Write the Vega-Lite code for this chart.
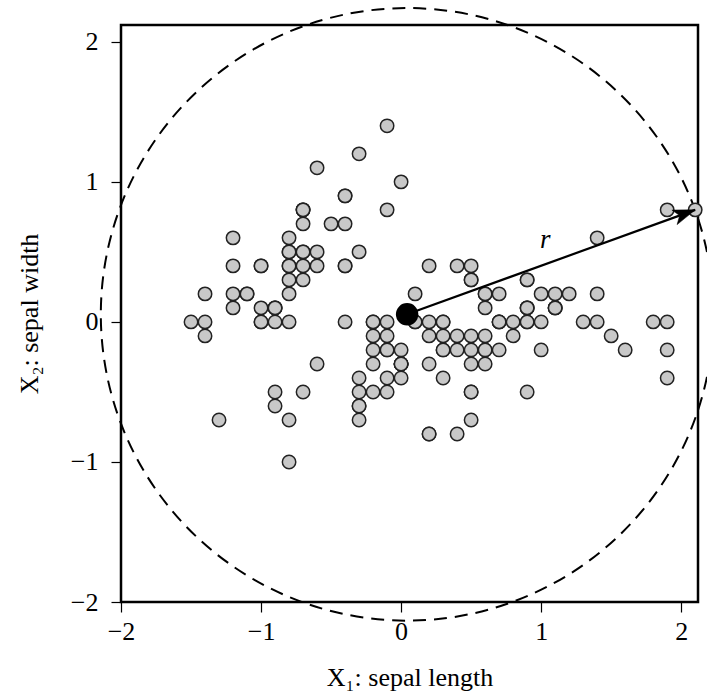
{
  "$schema": "https://vega.github.io/schema/vega-lite/v6.json",
  "width": 577,
  "height": 577,
  "autosize": {"type": "none"},
  "padding": {"left": 121, "top": 25, "right": 9, "bottom": 93},
  "background": "white",
  "datasets": {
    "iris": [
      {"x1": -0.7, "x2": 0.5}, {"x1": -0.9, "x2": 0.0}, {"x1": -1.1, "x2": 0.2}, {"x1": -1.2, "x2": 0.1}, {"x1": -0.8, "x2": 0.6},
      {"x1": -0.4, "x2": 0.9}, {"x1": -1.2, "x2": 0.4}, {"x1": -0.8, "x2": 0.4}, {"x1": -1.4, "x2": -0.1}, {"x1": -0.9, "x2": 0.1},
      {"x1": -0.4, "x2": 0.7}, {"x1": -1.0, "x2": 0.4}, {"x1": -1.0, "x2": 0.0}, {"x1": -1.5, "x2": 0.0}, {"x1": 0.0, "x2": 1.0},
      {"x1": -0.1, "x2": 1.4}, {"x1": -0.4, "x2": 0.9}, {"x1": -0.7, "x2": 0.5}, {"x1": -0.1, "x2": 0.8}, {"x1": -0.7, "x2": 0.8},
      {"x1": -0.4, "x2": 0.4}, {"x1": -0.7, "x2": 0.7}, {"x1": -1.2, "x2": 0.6}, {"x1": -0.7, "x2": 0.3}, {"x1": -1.0, "x2": 0.4},
      {"x1": -0.8, "x2": 0.0}, {"x1": -0.8, "x2": 0.4}, {"x1": -0.6, "x2": 0.5}, {"x1": -0.6, "x2": 0.4}, {"x1": -1.1, "x2": 0.2},
      {"x1": -1.0, "x2": 0.1}, {"x1": -0.4, "x2": 0.4}, {"x1": -0.6, "x2": 1.1}, {"x1": -0.3, "x2": 1.2}, {"x1": -0.9, "x2": 0.1},
      {"x1": -0.8, "x2": 0.2}, {"x1": -0.3, "x2": 0.5}, {"x1": -0.9, "x2": 0.1}, {"x1": -1.4, "x2": 0.0}, {"x1": -0.7, "x2": 0.4},
      {"x1": -0.8, "x2": 0.5}, {"x1": -1.3, "x2": -0.7}, {"x1": -1.4, "x2": 0.2}, {"x1": -0.8, "x2": 0.5}, {"x1": -0.7, "x2": 0.8},
      {"x1": -1.0, "x2": 0.0}, {"x1": -0.7, "x2": 0.8}, {"x1": -1.2, "x2": 0.2}, {"x1": -0.5, "x2": 0.7}, {"x1": -0.8, "x2": 0.3},
      {"x1": 1.2, "x2": 0.2}, {"x1": 0.6, "x2": 0.2}, {"x1": 1.1, "x2": 0.1}, {"x1": -0.3, "x2": -0.7}, {"x1": 0.7, "x2": -0.2},
      {"x1": -0.1, "x2": -0.2}, {"x1": 0.5, "x2": 0.3}, {"x1": -0.9, "x2": -0.6}, {"x1": 0.8, "x2": -0.1}, {"x1": -0.6, "x2": -0.3},
      {"x1": -0.8, "x2": -1.0}, {"x1": 0.1, "x2": 0.0}, {"x1": 0.2, "x2": -0.8}, {"x1": 0.3, "x2": -0.1}, {"x1": -0.2, "x2": -0.1},
      {"x1": 0.9, "x2": 0.1}, {"x1": -0.2, "x2": 0.0}, {"x1": 0.0, "x2": -0.3}, {"x1": 0.4, "x2": -0.8}, {"x1": -0.2, "x2": -0.5},
      {"x1": 0.1, "x2": 0.2}, {"x1": 0.3, "x2": -0.2}, {"x1": 0.5, "x2": -0.5}, {"x1": 0.3, "x2": -0.2}, {"x1": 0.6, "x2": -0.1},
      {"x1": 0.8, "x2": 0.0}, {"x1": 1.0, "x2": -0.2}, {"x1": 0.9, "x2": 0.0}, {"x1": 0.2, "x2": -0.1}, {"x1": -0.1, "x2": -0.4},
      {"x1": -0.3, "x2": -0.6}, {"x1": -0.3, "x2": -0.6}, {"x1": 0.0, "x2": -0.3}, {"x1": 0.2, "x2": -0.3}, {"x1": -0.4, "x2": 0.0},
      {"x1": 0.2, "x2": 0.4}, {"x1": 0.9, "x2": 0.1}, {"x1": 0.5, "x2": -0.7}, {"x1": -0.2, "x2": 0.0}, {"x1": -0.3, "x2": -0.5},
      {"x1": -0.3, "x2": -0.4}, {"x1": 0.3, "x2": 0.0}, {"x1": 0.0, "x2": -0.4}, {"x1": -0.8, "x2": -0.7}, {"x1": -0.2, "x2": -0.3},
      {"x1": -0.1, "x2": 0.0}, {"x1": -0.1, "x2": -0.1}, {"x1": 0.4, "x2": -0.1}, {"x1": -0.7, "x2": -0.5}, {"x1": -0.1, "x2": -0.2},
      {"x1": 0.5, "x2": 0.3}, {"x1": 0.0, "x2": -0.3}, {"x1": 1.3, "x2": 0.0}, {"x1": 0.5, "x2": -0.1}, {"x1": 0.7, "x2": 0.0},
      {"x1": 1.8, "x2": 0.0}, {"x1": -0.9, "x2": -0.5}, {"x1": 1.5, "x2": -0.1}, {"x1": 0.9, "x2": -0.5}, {"x1": 1.4, "x2": 0.6},
      {"x1": 0.7, "x2": 0.2}, {"x1": 0.6, "x2": -0.3}, {"x1": 1.0, "x2": 0.0}, {"x1": -0.1, "x2": -0.5}, {"x1": 0.0, "x2": -0.2},
      {"x1": 0.6, "x2": 0.2}, {"x1": 0.7, "x2": 0.0}, {"x1": 1.9, "x2": 0.8}, {"x1": 1.9, "x2": -0.4}, {"x1": 0.2, "x2": -0.8},
      {"x1": 1.1, "x2": 0.2}, {"x1": -0.2, "x2": -0.2}, {"x1": 1.9, "x2": -0.2}, {"x1": 0.5, "x2": -0.3}, {"x1": 0.9, "x2": 0.3},
      {"x1": 1.4, "x2": 0.2}, {"x1": 0.4, "x2": -0.2}, {"x1": 0.3, "x2": 0.0}, {"x1": 0.6, "x2": -0.2}, {"x1": 1.4, "x2": 0.0},
      {"x1": 1.6, "x2": -0.2}, {"x1": 2.1, "x2": 0.8}, {"x1": 0.6, "x2": -0.2}, {"x1": 0.5, "x2": -0.2}, {"x1": 0.3, "x2": -0.4},
      {"x1": 1.9, "x2": 0.0}, {"x1": 0.5, "x2": 0.4}, {"x1": 0.6, "x2": 0.1}, {"x1": 0.2, "x2": 0.0}, {"x1": 1.1, "x2": 0.1},
      {"x1": 0.9, "x2": 0.1}, {"x1": 1.1, "x2": 0.1}, {"x1": 0.0, "x2": -0.3}, {"x1": 1.0, "x2": 0.2}, {"x1": 0.9, "x2": 0.3},
      {"x1": 0.9, "x2": 0.0}, {"x1": 0.5, "x2": -0.5}, {"x1": 0.7, "x2": 0.0}, {"x1": 0.4, "x2": 0.4}, {"x1": 0.1, "x2": 0.0}
    ],
    "mean": [{"x1": 0.043, "x2": 0.054}],
    "arrow": [{"x1": 0.043, "x2": 0.054, "tx1": 2.1, "tx2": 0.8}],
    "tip": [{"x1": 2.1, "x2": 0.8}],
    "label": [{"x1": 1.03, "x2": 0.585, "text": "r"}]
  },
  "layer": [
    {
      "data": {"name": "mean"},
      "mark": {"type": "point", "shape": "circle", "filled": false, "size": 375279, "stroke": "black", "strokeWidth": 2, "strokeDash": [13, 8], "opacity": 1},
      "encoding": {
        "x": {"field": "x1", "type": "quantitative", "scale": {"domain": [-2, 2.12], "nice": false, "zero": false},
          "axis": {"values": [-2, -1, 0, 1, 2], "format": "d", "title": "X₁: sepal length", "grid": false, "domain": false, "tickSize": 10, "labelPadding": 6, "titlePadding": 20}},
        "y": {"field": "x2", "type": "quantitative", "scale": {"domain": [-2, 2.12], "nice": false, "zero": false},
          "axis": {"values": [-2, -1, 0, 1, 2], "format": "d", "title": "X₂: sepal width", "grid": false, "domain": false, "tickSize": 10, "labelPadding": 13, "titlePadding": 28}}
      }
    },
    {
      "data": {"name": "iris"},
      "mark": {"type": "point", "shape": "circle", "filled": true, "size": 180, "fill": "#c8c8c8", "stroke": "#222222", "strokeWidth": 1.5, "opacity": 1},
      "encoding": {
        "x": {"field": "x1", "type": "quantitative"},
        "y": {"field": "x2", "type": "quantitative"}
      }
    },
    {
      "data": {"name": "arrow"},
      "mark": {"type": "rule", "color": "black", "strokeWidth": 2.2},
      "encoding": {
        "x": {"field": "x1", "type": "quantitative"},
        "y": {"field": "x2", "type": "quantitative"},
        "x2": {"field": "tx1"},
        "y2": {"field": "tx2"}
      }
    },
    {
      "data": {"name": "tip"},
      "mark": {"type": "point", "shape": "M0,0 L-1,-0.35 L-0.75,0 L-1,0.35 Z", "filled": true, "size": 1936, "fill": "black", "stroke": "black", "strokeWidth": 0.5, "angle": 340.1, "opacity": 1},
      "encoding": {
        "x": {"field": "x1", "type": "quantitative"},
        "y": {"field": "x2", "type": "quantitative"}
      }
    },
    {
      "data": {"name": "mean"},
      "mark": {"type": "point", "shape": "circle", "filled": true, "size": 420, "fill": "black", "stroke": "black", "opacity": 1},
      "encoding": {
        "x": {"field": "x1", "type": "quantitative"},
        "y": {"field": "x2", "type": "quantitative"}
      }
    },
    {
      "data": {"name": "label"},
      "mark": {"type": "text", "font": "Liberation Serif", "fontSize": 27, "fontStyle": "italic", "color": "black", "align": "center", "baseline": "middle"},
      "encoding": {
        "x": {"field": "x1", "type": "quantitative"},
        "y": {"field": "x2", "type": "quantitative"},
        "text": {"field": "text"}
      }
    }
  ],
  "config": {
    "view": {"stroke": "black", "strokeWidth": 2.5},
    "axis": {
      "labelFont": "Liberation Serif",
      "labelFontSize": 26,
      "labelColor": "black",
      "titleFont": "Liberation Serif",
      "titleFontSize": 26,
      "titleFontWeight": "normal",
      "titleColor": "black",
      "tickColor": "black",
      "tickWidth": 1.2,
      "labelFlush": false,
      "labelOverlap": false
    }
  }
}
